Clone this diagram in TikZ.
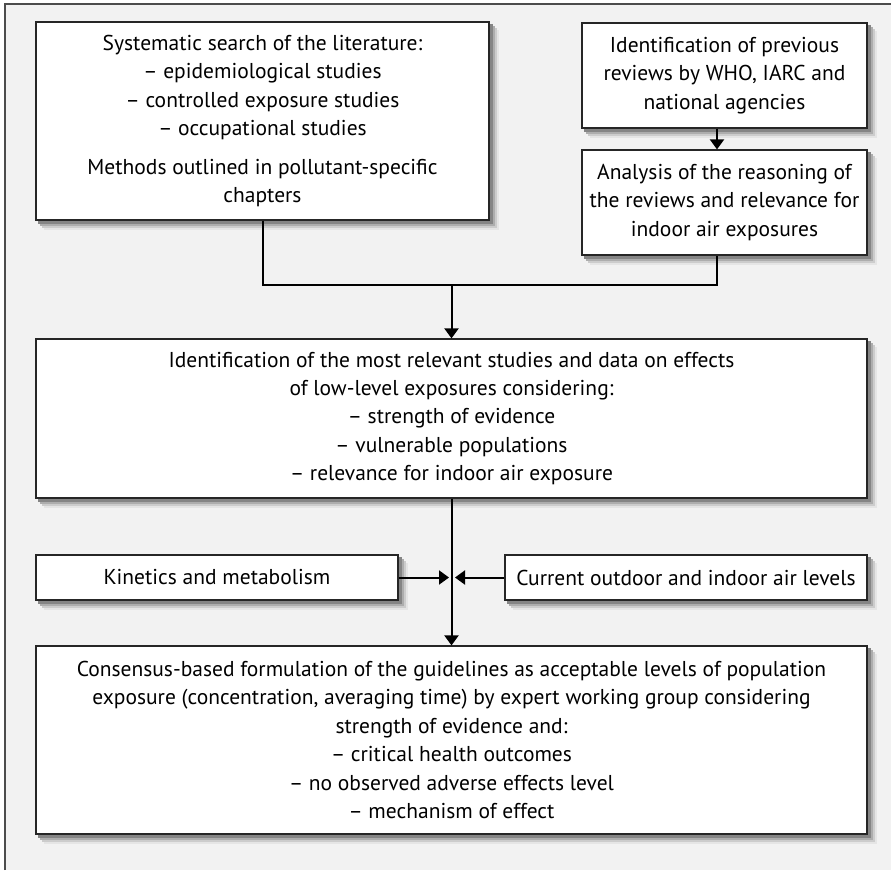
\documentclass[tikz,border=0pt]{standalone}
\usepackage{fontspec}
\setmainfont{PT Sans}
\usetikzlibrary{arrows.meta}
\newcommand{\boxfont}{\fontsize{21.5}{28.4}\selectfont}
\tikzset{
	stepbox/.style={draw=black!85,line width=1.2pt,fill=white,align=center,inner sep=0pt,font=\boxfont},
	flow/.style={line width=2pt},
	flowarrow/.style={flow,-{Triangle[width=14pt,length=10pt]}}
}
\begin{document}
\begin{tikzpicture}[x=1pt,y=-1pt]
			\useasboundingbox (0,0) rectangle (891,870);
			%Grey frame behind the chart
			\path [fill=black!5] (5,4) rectangle (891,870);
			\draw [black!70,line width=1.5pt] (5,870) -- (5,4) -- (891,4);
			%Centres of the boxes
			\coordinate (centerSearch) at (262.5,121);
			\coordinate (centerReviews) at (724.5,75.5);
			\coordinate (centerAnalysis) at (724.5,202.5);
			\coordinate (centerEvidence) at (451.5,418.5);
			\coordinate (centerKinetics) at (217,577.5);
			\coordinate (centerLevels) at (686,577.5);
			\coordinate (centerConsensus) at (451.5,740);
			%Top row
			\node (search) [stepbox,minimum width=453pt,minimum height=198pt] at (centerSearch) {
				Systematic search of the literature:\\
				-- epidemiological studies\\
				-- controlled exposure studies\\
				-- occupational studies\\[10pt]
				Methods outlined in pollutant-specific\\
				chapters};
			\node (reviews) [stepbox,minimum width=285pt,minimum height=105pt] at (centerReviews) {
				Identification of previous\\
				reviews by WHO, IARC and\\
				national agencies};
			\node (analysis) [stepbox,minimum width=285pt,minimum height=105pt] at (centerAnalysis) {
				Analysis of the reasoning of\\
				the reviews and relevance for\\
				indoor air exposures};
			%Middle box
			\node (evidence) [stepbox,minimum width=831pt,minimum height=159pt] at (centerEvidence) {
				Identification of the most relevant studies and data on effects\\
				of low-level exposures considering:\\
				-- strength of evidence\\
				-- vulnerable populations\\
				-- relevance for indoor air exposure};
			%Side inputs
			\node (kinetics) [stepbox,minimum width=362pt,minimum height=45pt] at (centerKinetics) {Kinetics and metabolism};
			\node (levels) [stepbox,minimum width=362pt,minimum height=45pt] at (centerLevels) {Current outdoor and indoor air levels};
			%Bottom box
			\node (consensus) [stepbox,minimum width=831pt,minimum height=188pt] at (centerConsensus) {
				Consensus-based formulation of the guidelines as acceptable levels of population\\
				exposure (concentration, averaging time) by expert working group considering\\
				strength of evidence and:\\
				-- critical health outcomes\\
				-- no observed adverse effects level\\
				-- mechanism of effect};
			%Soft shadow strips along the right and lower sides
			\foreach \n in {search,reviews,analysis,evidence,kinetics,levels,consensus} {
				\foreach \o/\c in {9/10,7/20,5/32,3/48} {
					\fill [black!\c] ([shift={(0,\o)}]\n.north east) rectangle ([shift={(\o,\o)}]\n.south east);
					\fill [black!\c] ([shift={(\o,0)}]\n.south west) rectangle ([shift={(\o,\o)}]\n.south east);
				}
			}
			%Joining lines
			\coordinate (joinR) at (717,285);
			\coordinate (joinM) at (evidence.north |- joinR);
			\draw [flowarrow] (joinR |- reviews.south) -- (joinR |- analysis.north);
			\draw [flow] (search.south) |- (joinR) -- (joinR |- analysis.south);
			\draw [flowarrow] (joinM) -- (evidence.north);
			\draw [flowarrow] (evidence.south) -- (consensus.north);
			%Arrows meeting the vertical line
			\coordinate (meetL) at (449,577.5);
			\coordinate (meetR) at (455,577.5);
			\draw [flowarrow] (kinetics.east) -- (meetL);
			\draw [flowarrow] (levels.west) -- (meetR);
\end{tikzpicture}
\end{document}
